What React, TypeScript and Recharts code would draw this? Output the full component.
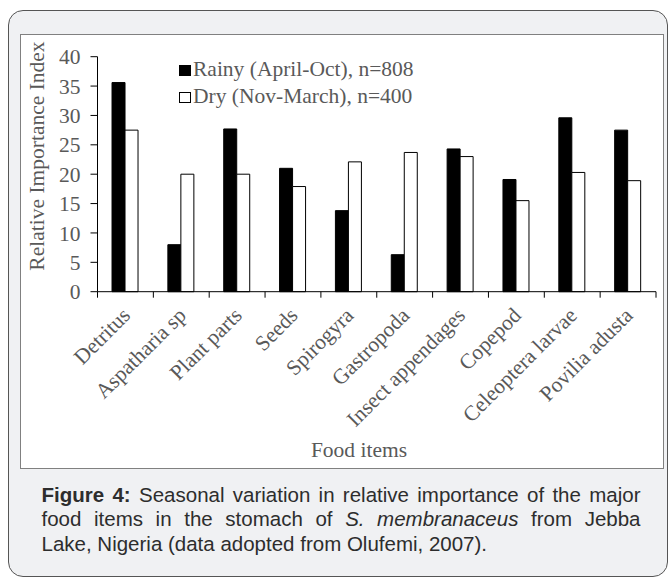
import { BarChart, Bar, XAxis, YAxis } from 'recharts'

const ITEMS = ['Detritus', 'Aspatharia sp', 'Plant parts', 'Seeds', 'Spirogyra', 'Gastropoda', 'Insect appendages', 'Copepod', 'Celeoptera larvae', 'Povilia adusta']
const RAINY = [35.6, 8.0, 27.7, 21.0, 13.8, 6.3, 24.3, 19.1, 29.6, 27.5]
const DRY = [27.5, 20.0, 20.0, 17.9, 22.1, 23.7, 23.0, 15.5, 20.3, 18.9]
const Y_TICKS = [0, 5, 10, 15, 20, 25, 30, 35, 40]
const SERIES_NAMES = ['Rainy (April-Oct), n=808', 'Dry (Nov-March), n=400']

const W = 669
const AXIS_X = 97.5
const PLOT_RIGHT = 656
const PLOT_W = PLOT_RIGHT - AXIS_X

const SERIF = '"Liberation Serif", "Times New Roman", serif'
const SANS = '"Liberation Sans", Arial, sans-serif'
const GREY = '#595959'
const FS = 21.5

const data = ITEMS.map((item, i) => ({ item, rainy: RAINY[i], dry: DRY[i] }))

// category ticks sit on the band edges, labels hang off the band centre
function CategoryTick(props: any) {
    const { x, y, payload, index } = props
    const bw = PLOT_W / ITEMS.length
    const axisY = y - 6
    const lx = x + 6
    const ly = y + 19
    return (
        <g>
            <line x1={x - bw / 2} x2={x - bw / 2} y1={axisY} y2={axisY + 6} stroke="#000" />
            {index === ITEMS.length - 1 && <line x1={x + bw / 2} x2={x + bw / 2} y1={axisY} y2={axisY + 6} stroke="#000" />}
            <text x={lx} y={ly} textAnchor="end" transform={`rotate(-45 ${lx} ${ly})`} fill={GREY} fontSize={FS} fontFamily={SERIF}>
                {payload.value}
            </text>
        </g>
    )
}

export default function App() {
    return (
        <div style={{ position: 'fixed', left: 0, top: 0, width: W, height: 579, overflow: 'hidden', background: '#fff' }}>
            <div style={{ position: 'absolute', left: 8, top: 10, width: 660, height: 567, boxSizing: 'border-box', border: '1px solid #555', borderRadius: 15, background: '#f0f1f3' }} />
            <div style={{ position: 'absolute', left: 20, top: 34, width: 644, height: 434.5, boxSizing: 'border-box', border: '1px solid #808080', background: '#fff' }} />

            <div style={{ position: 'absolute', left: 0, top: 0 }}>
                <BarChart width={W} height={470} data={data} margin={{ top: 56.7, right: W - PLOT_RIGHT, left: 0, bottom: 0 }} barCategoryGap="26%" barGap={0}>
                    <YAxis
                        width={AXIS_X}
                        domain={[0, 40]}
                        ticks={Y_TICKS}
                        interval={0}
                        tickSize={7}
                        tickMargin={10}
                        axisLine={{ stroke: '#000' }}
                        tickLine={{ stroke: '#000' }}
                        tick={{ fill: GREY, fontSize: FS, fontFamily: SERIF }}
                        label={{
                            content: () => (
                                <text x={37} y={156} transform="rotate(-90 37 156)" textAnchor="middle" dominantBaseline="central" fill={GREY} fontSize={FS} fontFamily={SERIF}>
                                    Relative Importance Index
                                </text>
                            ),
                        }}
                    />
                    <XAxis
                        dataKey="item"
                        height={470 - 291.7}
                        interval={0}
                        tickSize={6}
                        tickMargin={0}
                        tickLine={false}
                        axisLine={{ stroke: '#000' }}
                        tick={<CategoryTick />}
                        label={{
                            content: () => (
                                <text x={359} y={456.5} textAnchor="middle" fill={GREY} fontSize={FS} fontFamily={SERIF}>
                                    Food items
                                </text>
                            ),
                        }}
                    />
                    <Bar dataKey="rainy" name={SERIES_NAMES[0]} fill="#000" stroke="#000" strokeWidth={1} isAnimationActive={false} />
                    <Bar dataKey="dry" name={SERIES_NAMES[1]} fill="#fff" stroke="#000" strokeWidth={1} isAnimationActive={false} />
                </BarChart>
            </div>

            <div style={{ position: 'absolute', left: 179, top: 56, fontFamily: SERIF, fontSize: FS, lineHeight: '27px', color: GREY, whiteSpace: 'nowrap' }}>
                {SERIES_NAMES.map((name, i) => (
                    <div key={name}>
                        <span style={{ display: 'inline-block', width: 12, height: 11, boxSizing: 'border-box', border: '1px solid #000', background: i === 0 ? '#000' : '#fff', marginRight: 2 }} />
                        {name}
                    </div>
                ))}
            </div>

            <div style={{ position: 'absolute', left: 41.5, top: 482.5, width: 599, fontFamily: SANS, fontSize: 20.5, lineHeight: '24.5px', color: '#2d2d2d' }}>
                <div style={{ textAlign: 'justify', textAlignLast: 'justify' }}>
                    <b>Figure 4:</b> Seasonal variation in relative importance of the major
                </div>
                <div style={{ textAlign: 'justify', textAlignLast: 'justify' }}>
                    food items in the stomach of <i>S. membranaceus</i> from Jebba
                </div>
                <div>Lake, Nigeria (data adopted from Olufemi, 2007).</div>
            </div>
        </div>
    )
}
